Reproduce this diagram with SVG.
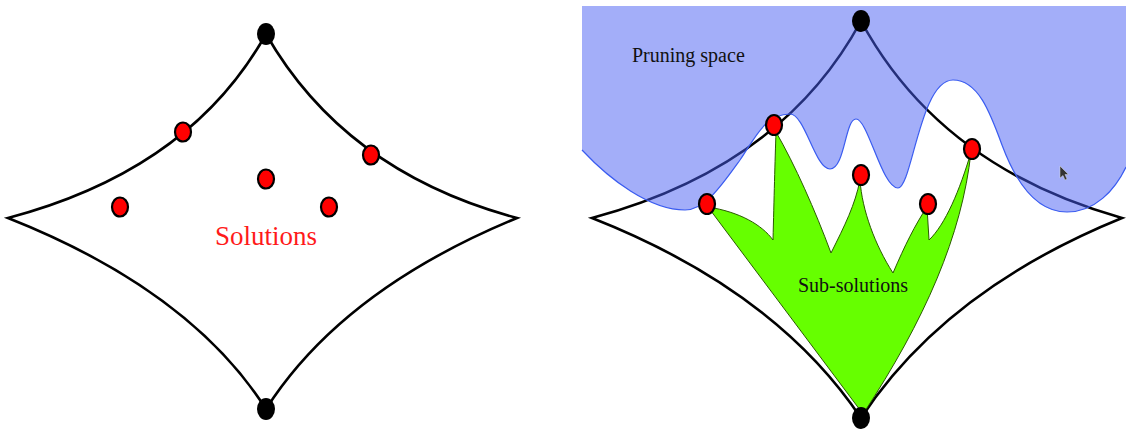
<svg xmlns="http://www.w3.org/2000/svg" width="1126" height="430" viewBox="0 0 1126 430">
<style>
.star{fill:none;stroke:#000;stroke-width:2.6;stroke-linejoin:miter}
.sol{fill:#ff0000;stroke:#000;stroke-width:2.2}
.end{fill:#000}
.lbl{font-family:"Liberation Serif","Times New Roman",serif;font-size:20px;fill:#111}
</style>
<rect width="1126" height="430" fill="#fff"/>
<g id="left-figure">
  <path id="left-star" class="star" d="M266,34 Q190,170 8,218 Q190,290 266,409 Q342,290 517,218 Q345,172 266,34 Z"/>
  <ellipse id="left-top" class="end" cx="266" cy="34" rx="9" ry="11"/>
  <ellipse id="left-bottom" class="end" cx="266" cy="409" rx="9" ry="11"/>
  <g id="left-solutions">
    <ellipse class="sol" cx="183" cy="132" rx="8" ry="9.5"/>
    <ellipse class="sol" cx="371" cy="155" rx="8" ry="9.5"/>
    <ellipse class="sol" cx="266" cy="179" rx="8" ry="9.5"/>
    <ellipse class="sol" cx="120" cy="207" rx="8" ry="9.5"/>
    <ellipse class="sol" cx="329" cy="207" rx="8" ry="9.5"/>
  </g>
  <text id="solutions-label" x="266" y="245" text-anchor="middle" font-family="'Liberation Serif','Times New Roman',serif" font-size="27" fill="#ff1a1a">Solutions</text>
</g>
<g id="right-figure">
  <path id="right-star" class="star" d="M861,21 Q782,167 592,218 Q775,290 861,418 Q945,290 1122,218 Q940,167 861,21 Z"/>
  <g id="pruning-space">
    <path fill="rgb(72,94,243)" fill-opacity="0.5" stroke="none" d="M582,6 L582,150 C610,180 650,210 685,210 C705,210 722,185 740,160 C755,138 765,114 790,114 C805,114 815,169 830,169 C845,169 845,119 856,119 C868,119 882,188 898,188 C912,188 920,80 953,80 C978,80 990,112 1002,145 C1015,180 1035,212 1067,212 C1095,212 1115,190 1126,167 L1126,6 Z"/>
    <path fill="none" stroke="#3a5cf0" stroke-width="1.2" d="M582,150 C610,180 650,210 685,210 C705,210 722,185 740,160 C755,138 765,114 790,114 C805,114 815,169 830,169 C845,169 845,119 856,119 C868,119 882,188 898,188 C912,188 920,80 953,80 C978,80 990,112 1002,145 C1015,180 1035,212 1067,212 C1095,212 1115,190 1126,167"/>
  </g>
  <path id="sub-solutions" fill="#66ff00" stroke="#2a5a00" stroke-width="1" d="M708,207 C740,212 762,225 773,240 C774,200 775,160 776,132 C795,165 815,210 831,253 C845,225 855,205 860,180 C862,210 875,245 893,273 C905,245 915,225 927,207 L929,240 C945,225 960,190 971,152 C962,235 925,320 863,414 L708,207 Z"/>
  <ellipse id="right-top" class="end" cx="861" cy="21" rx="9" ry="11"/>
  <ellipse id="right-bottom" class="end" cx="861" cy="418" rx="9" ry="11"/>
  <g id="right-solutions">
    <ellipse class="sol" cx="774" cy="125" rx="8" ry="10"/>
    <ellipse class="sol" cx="972" cy="149" rx="8" ry="10"/>
    <ellipse class="sol" cx="861" cy="175" rx="8" ry="10"/>
    <ellipse class="sol" cx="707" cy="204" rx="8" ry="10"/>
    <ellipse class="sol" cx="928" cy="204" rx="8" ry="10"/>
  </g>
  <text id="pruning-label" class="lbl" x="632" y="62">Pruning space</text>
  <text id="sub-label" class="lbl" x="853" y="292" text-anchor="middle">Sub-solutions</text>
  <path id="cursor" d="M1060,166 L1060,178 L1063,175.5 L1065,180 L1067,179 L1065,174.5 L1068.5,174.5 Z" fill="#333" stroke="#ddd" stroke-width="0.5"/>
</g>
</svg>
